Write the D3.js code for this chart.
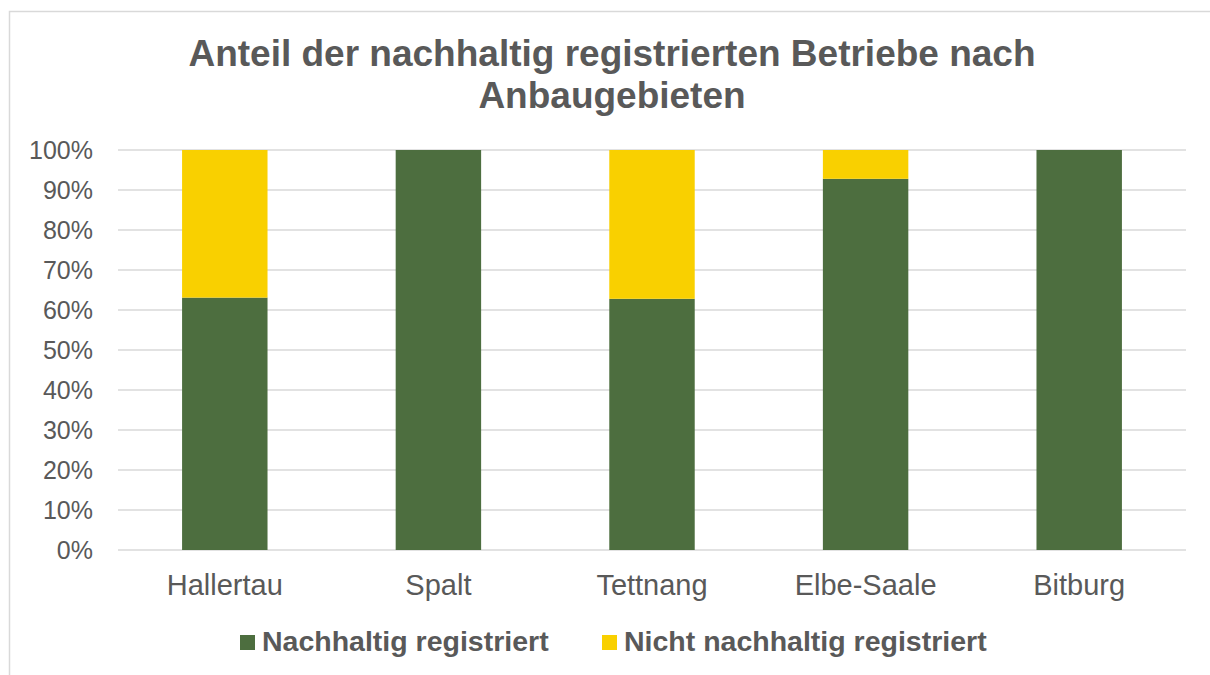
<!DOCTYPE html>
<html>
<head>
<meta charset="utf-8">
<script src="https://cdn.jsdelivr.net/npm/d3@7"></script>
<style>
  body { margin: 0; background: #fff; }
  text { font-family: "Liberation Sans", Arial, sans-serif; }
</style>
</head>
<body>
<div id="chart"></div>
<script>
const categories = ["Hallertau", "Spalt", "Tettnang", "Elbe-Saale", "Bitburg"];
const registered = [0.631, 1.0, 0.628, 0.928, 1.0];
const notRegistered = [0.369, 0.0, 0.372, 0.072, 0.0];
const seriesNames = ["Nachhaltig registriert", "Nicht nachhaltig registriert"];
const seriesColors = ["#4D6E3F", "#F9D000"];
const yTicks = [0, 0.1, 0.2, 0.3, 0.4, 0.5, 0.6, 0.7, 0.8, 0.9, 1.0];

const width = 1210;
const height = 675;
const margin = { top: 150, right: 24, bottom: 125, left: 118 };

const svg = d3.select("#chart")
  .append("svg")
  .attr("width", width)
  .attr("height", height);

// chart frame
svg.append("rect")
  .attr("x", 9.5)
  .attr("y", 11.5)
  .attr("width", 1220)
  .attr("height", 700)
  .attr("fill", "none")
  .attr("stroke", "#D9D9D9")
  .attr("stroke-width", 1.5);

svg.append("text")
  .attr("x", 612)
  .attr("y", 66)
  .attr("text-anchor", "middle")
  .attr("font-size", 37)
  .attr("font-weight", "bold")
  .attr("fill", "#595959")
  .selectAll("tspan")
  .data(["Anteil der nachhaltig registrierten Betriebe nach", "Anbaugebieten"])
  .enter().append("tspan")
  .attr("x", 612)
  .attr("dy", (d, i) => i === 0 ? 0 : 42)
  .text(d => d);

const x = d3.scaleBand()
  .domain(categories)
  .range([margin.left, width - margin.right])
  .paddingInner(0.6)
  .paddingOuter(0.3);

const y = d3.scaleLinear()
  .domain([0, 1])
  .range([height - margin.bottom, margin.top]);

// gridlines
svg.append("g")
  .selectAll("line")
  .data(yTicks)
  .enter().append("line")
  .attr("x1", margin.left)
  .attr("x2", width - margin.right)
  .attr("y1", d => y(d))
  .attr("y2", d => y(d))
  .attr("stroke", "#D9D9D9")
  .attr("stroke-width", 1.5);

const yAxis = svg.append("g")
  .attr("transform", `translate(${margin.left},0)`)
  .call(d3.axisLeft(y).tickValues(yTicks).tickFormat(d3.format(".0%")).tickSize(0).tickPadding(25));
yAxis.select(".domain").remove();
yAxis.selectAll("text")
  .attr("font-size", 25)
  .attr("fill", "#595959")
  .style("font-family", "Liberation Sans, Arial, sans-serif");

const rows = categories.map((c, i) => ({ cat: c, a: registered[i], b: notRegistered[i] }));
const stacked = d3.stack().keys(["a", "b"])(rows);

svg.append("g")
  .selectAll("g")
  .data(stacked)
  .enter().append("g")
  .attr("fill", (d, i) => seriesColors[i])
  .selectAll("rect")
  .data(d => d.filter(p => p[1] - p[0] > 0))
  .enter().append("rect")
  .attr("x", d => x(d.data.cat))
  .attr("width", x.bandwidth())
  .attr("y", d => y(d[1]))
  .attr("height", d => y(d[0]) - y(d[1]));

const xAxis = svg.append("g")
  .attr("transform", `translate(0,${height - margin.bottom})`)
  .call(d3.axisBottom(x).tickSize(0).tickPadding(24));
xAxis.select(".domain").remove();
xAxis.selectAll("text")
  .attr("font-size", 29)
  .attr("fill", "#595959")
  .style("font-family", "Liberation Sans, Arial, sans-serif");

// legend
const legendX = [240, 602];
const legend = svg.append("g");
seriesNames.forEach((name, i) => {
  legend.append("rect")
    .attr("x", legendX[i])
    .attr("y", 635)
    .attr("width", 15)
    .attr("height", 15)
    .attr("fill", seriesColors[i]);
  legend.append("text")
    .attr("x", legendX[i] + 22)
    .attr("y", 651)
    .attr("font-size", 28.5)
    .attr("font-weight", "bold")
    .attr("fill", "#595959")
    .text(name);
});
</script>
</body>
</html>
